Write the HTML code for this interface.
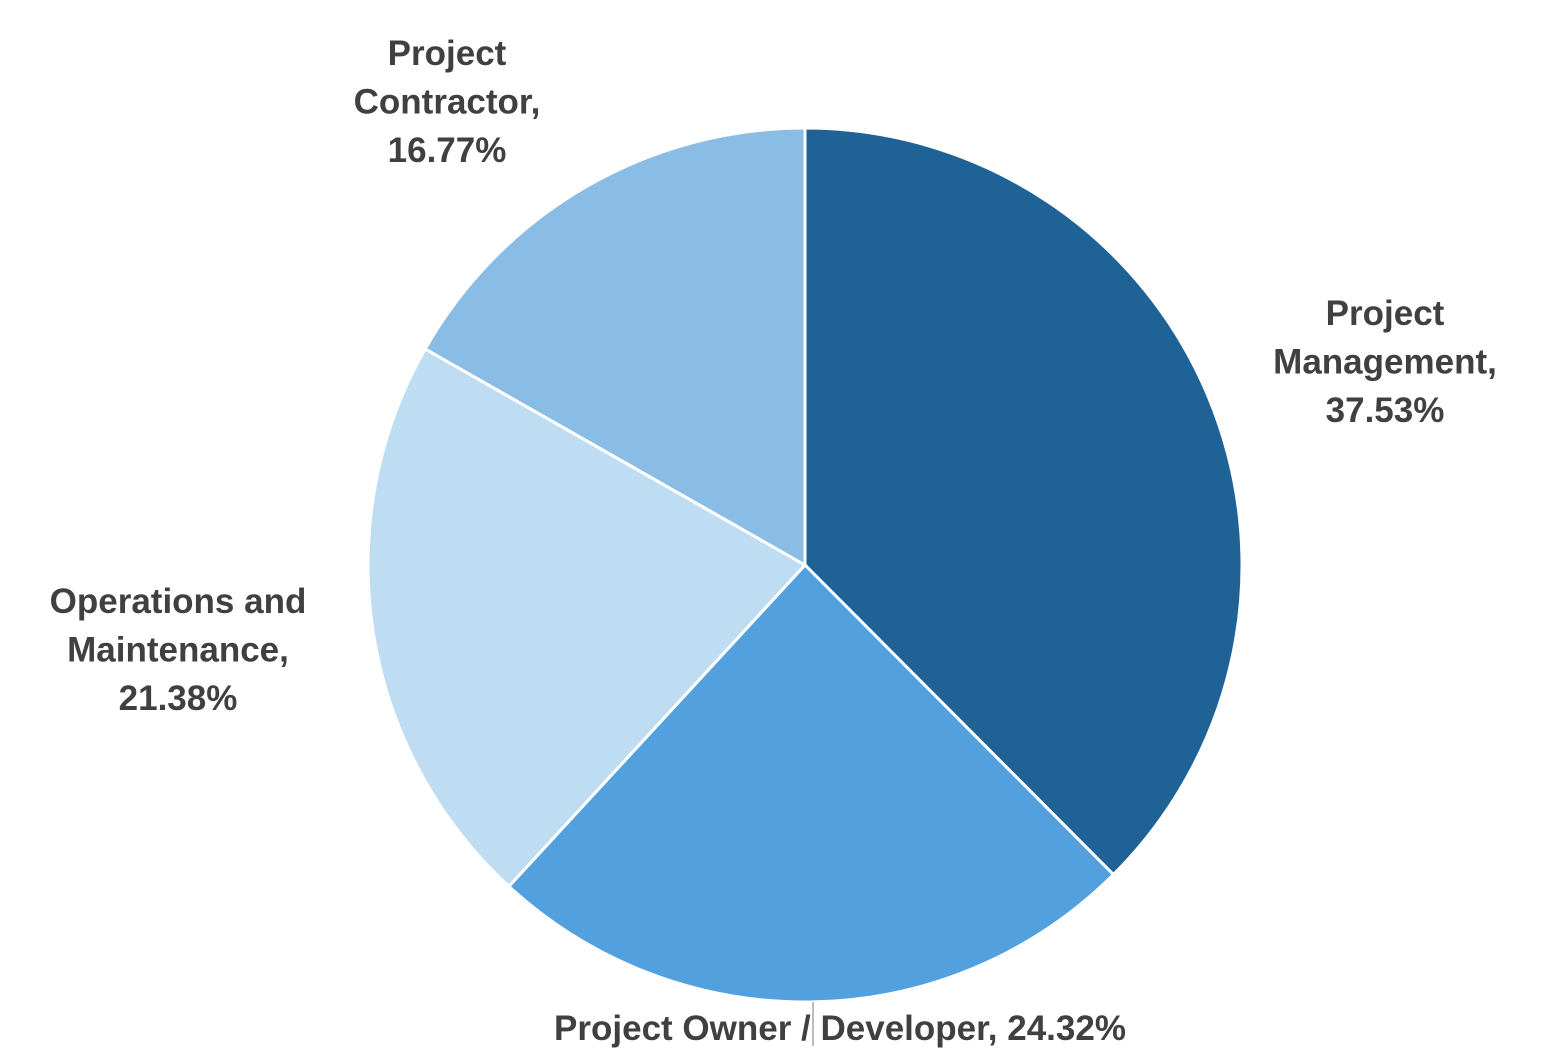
<!DOCTYPE html>
<html><head><meta charset="utf-8"><style>
html,body{margin:0;padding:0;background:#fff;}
svg{display:block;}
text{font-family:"Liberation Sans",sans-serif;font-weight:bold;font-size:35px;fill:#404040;text-anchor:middle;}
</style></head><body>
<svg id="chart" width="1563" height="1063" viewBox="0 0 1563 1063" xmlns="http://www.w3.org/2000/svg">
<g id="slices"></g>
<line x1="813" y1="1002" x2="813" y2="1046" stroke="#a6a6a6" stroke-width="1.5"/>
<g id="labels"></g>
</svg>
<script>
const categories = ["Project Management", "Project Owner / Developer", "Operations and Maintenance", "Project Contractor"];
const values = [37.53, 24.32, 21.38, 16.77];
const colors = ["#1E6296", "#52A0DE", "#BFDDF2", "#89BDE6"];
const cx = 805, cy = 565, r = 437;
const NS = "http://www.w3.org/2000/svg";
const total = values.reduce((a,b)=>a+b,0);
const sg = document.getElementById("slices");
let a0 = 0;
function pt(a){ return [cx + r*Math.sin(a), cy - r*Math.cos(a)]; }
values.forEach((v,i)=>{
  const a1 = a0 + v/total*2*Math.PI;
  const p0 = pt(a0), p1 = pt(a1);
  const large = (a1-a0) > Math.PI ? 1 : 0;
  const path = document.createElementNS(NS,"path");
  path.setAttribute("d",`M${cx},${cy} L${p0[0]},${p0[1]} A${r},${r} 0 ${large} 1 ${p1[0]},${p1[1]} Z`);
  path.setAttribute("fill",colors[i]);
  path.setAttribute("stroke","#fff");
  path.setAttribute("stroke-width","3");
  
  
  sg.appendChild(path);
  a0 = a1;
});
// label layout: [x, first baseline, lines]
const labelLayout = [
  [1385, 325, ["Project", "Management,"]],
  [840, 1040, ["Project Owner / Developer,"]],
  [178, 613, ["Operations and", "Maintenance,"]],
  [447, 65, ["Project", "Contractor,"]]
];
const lg = document.getElementById("labels");
values.forEach((v,i)=>{
  const [x,y,lines] = labelLayout[i];
  const t = document.createElementNS(NS,"text");
  
  
  const all = lines.slice();
  if (lines.length === 1) all[0] = lines[0] + " " + v.toFixed(2) + "%";
  else all.push(v.toFixed(2) + "%");
  all.forEach((s,j)=>{
    const ts = document.createElementNS(NS,"tspan");
    ts.setAttribute("x", x);
    ts.setAttribute("y", y + j*48.5);
    ts.textContent = s;
    t.appendChild(ts);
  });
  lg.appendChild(t);
});
</script>
</body></html>
